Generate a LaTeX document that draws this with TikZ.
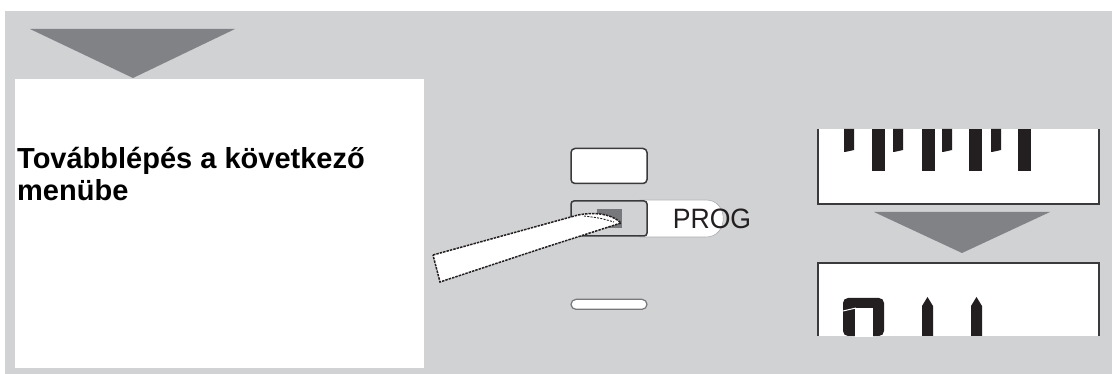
\documentclass[tikz,border=0pt]{standalone}
\usepackage{fontspec}
\usepackage{tikz}
\usetikzlibrary{arrows.meta,positioning}
\newfontfamily\arialf{Liberation Sans}
\definecolor{Panel}{HTML}{D1D2D4}
\definecolor{Wedge}{HTML}{808285}
\definecolor{Seg}{HTML}{231F20}
\definecolor{Frame}{HTML}{3A3A3C}
\definecolor{Key}{HTML}{77787B}

\begin{document}
\begin{tikzpicture}[x=1pt,y=-1pt,node distance=16pt,
  wedge/.style={fill=Wedge},
  lcd/.style={draw=Frame,line width=1.4pt},
  segm/.style={fill=Seg},
  caption/.style={anchor=base west,inner sep=0pt,font=\arialf\bfseries\fontsize{29}{33}\selectfont},
  keybox/.style={draw=Frame,line width=1.5pt,rounded corners=4pt,minimum width=76pt,minimum height=35pt,inner sep=0pt},
  finger/.style={fill=white,draw=Seg,line width=1.5pt,dash pattern=on 2.5pt off 1pt}]
\useasboundingbox (0,0) rectangle (1112,374);
\fill[white] (0,0) rectangle (1112,374);
\fill[Panel] (5,11) rectangle (1112,374);
% left: text box
\fill[white] (15,79) rectangle (424,368);
\fill[wedge] (30,29) -- (235,29) -- (133,78) -- cycle;
\node[caption] (txta) at (17,169) {Továbblépés a következő};
\node[caption] (txtb) at (17,201) {menübe};
% keys
\fill[white,draw=Key!60,line width=0.6pt] (640,200) -- (706,200) .. controls (729,200) and (729,237) .. (706,237) -- (640,237) -- cycle;
\node[keybox,fill=Panel,rounded corners=3pt] (prog) at (609,218.5) {};
\node[keybox,fill=white,above=of prog] (upper) {};
\node[draw=Key,fill=white,line width=1.2pt,rounded corners=5pt,minimum width=76pt,minimum height=10pt,inner sep=0pt,below=62pt of prog] (slot) {};
\fill[Key] (597,209) rectangle (622,228);
\node[anchor=base,inner sep=0pt,font=\arialf\fontsize{28}{28}\selectfont,text=Seg] (proglbl) at (712,229) {\scalebox{0.95}[1]{PROG}};
% pointer
\draw[finger] (433,255) -- (578,215) .. controls (600,211) and (614,216) .. (621,223) -- (540,249) -- (440,282) -- cycle;
\draw[draw=Seg,line width=0.9pt,dash pattern=on 2pt off 1.3pt] (584,216) .. controls (600,218) .. (614,222);
% right: displays
\fill[white] (818,129) rectangle (1099,204);
\draw[lcd] (818,129) -- (818,204) -- (1099,204) -- (1099,129);
\foreach \sx/\tx in {844/872,893/922,942/969,991/1018}{
  \fill[segm] (\sx,129) -- (\sx+10,129) -- (\sx+10,150) -- (\sx+1,152) -- (\sx,152) -- cycle;
  \fill[segm] (\tx,129) rectangle (\tx+13,171);
}
\fill[wedge] (874,212) -- (1050,212) -- (962,253) -- cycle;
\fill[white] (818,263) rectangle (1099,336);
\draw[lcd] (818,336) -- (818,263) -- (1099,263) -- (1099,336);
\fill[segm,rounded corners=5pt] (843,336) -- (843,298) -- (884,298) -- (884,336) -- cycle;
\fill[white] (855,308) rectangle (873,337);
\draw[white,line width=1pt] (843,311) -- (856,308);
\foreach \bx in {922,971}{
  \fill[segm] (\bx,336) -- (\bx,306) -- (\bx+5.5,297) -- (\bx+11,306) -- (\bx+11,336) -- cycle;
}
\end{tikzpicture}
\end{document}
